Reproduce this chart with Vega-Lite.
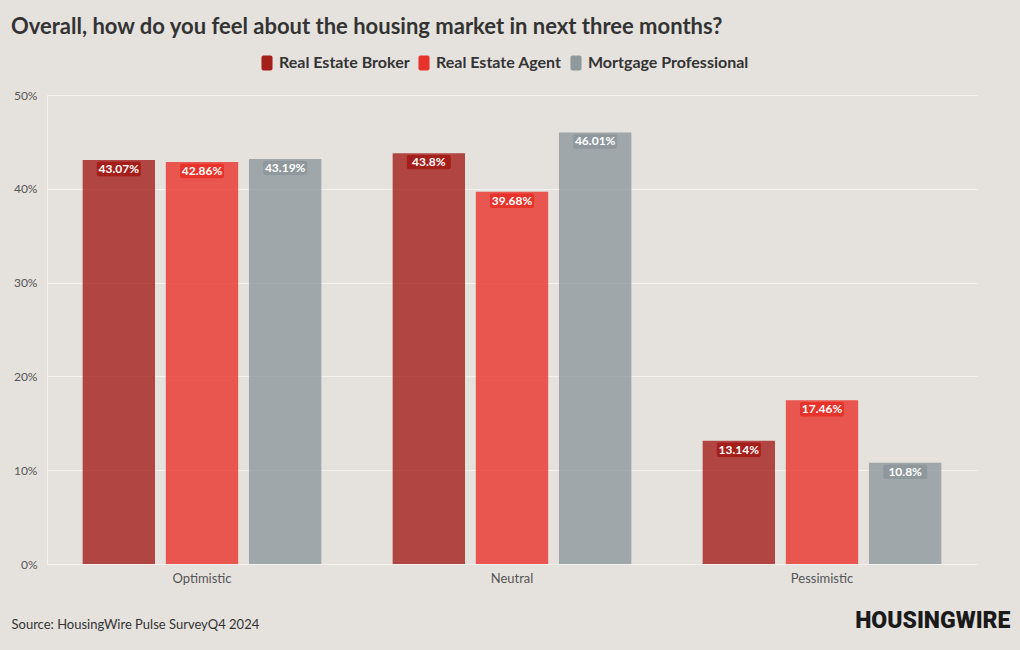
{
  "$schema": "https://vega.github.io/schema/vega-lite/v6.json",
  "width": 930,
  "height": 469,
  "autosize": {"type": "none"},
  "padding": {"left": 47, "top": 95, "right": 43, "bottom": 86},
  "background": "#e5e2de",
  "title": {
    "text": "Overall, how do you feel about the housing market in next three months?",
    "anchor": "start",
    "frame": "group",
    "dx": -36,
    "font": "Lato",
    "fontSize": 22,
    "fontWeight": "bold",
    "color": "#333333",
    "offset": 16
  },
  "config": {
    "view": {"stroke": null},
    "font": "Lato"
  },
  "data": {
    "values": [
      {"sentiment": "Optimistic", "role": "Real Estate Broker", "value": 43.07},
      {"sentiment": "Optimistic", "role": "Real Estate Agent", "value": 42.86},
      {"sentiment": "Optimistic", "role": "Mortgage Professional", "value": 43.19},
      {"sentiment": "Neutral", "role": "Real Estate Broker", "value": 43.8},
      {"sentiment": "Neutral", "role": "Real Estate Agent", "value": 39.68},
      {"sentiment": "Neutral", "role": "Mortgage Professional", "value": 46.01},
      {"sentiment": "Pessimistic", "role": "Real Estate Broker", "value": 13.14},
      {"sentiment": "Pessimistic", "role": "Real Estate Agent", "value": 17.46},
      {"sentiment": "Pessimistic", "role": "Mortgage Professional", "value": 10.8}
    ]
  },
  "transform": [
    {"calculate": "format(datum.value, '.2~f') + '%'", "as": "label"}
  ],
  "encoding": {
    "x": {
      "field": "sentiment",
      "type": "nominal",
      "sort": ["Optimistic", "Neutral", "Pessimistic"],
      "scale": {"paddingInner": 0.23, "paddingOuter": 0.115},
      "axis": {
        "labelAngle": 0,
        "ticks": false,
        "domain": false,
        "labelFont": "Lato",
        "labelFontSize": 13,
        "labelColor": "#555555",
        "labelPadding": 8,
        "title": "Source: HousingWire Pulse SurveyQ4 2024",
        "titleFont": "Lato",
        "titleFontSize": 13,
        "titleFontWeight": "normal",
        "titleColor": "#333333",
        "titleAnchor": "start",
        "titleAlign": "left",
        "titleBaseline": "middle",
        "titleX": -36,
        "titleY": 60
      }
    },
    "xOffset": {
      "field": "role",
      "type": "nominal",
      "sort": ["Real Estate Broker", "Real Estate Agent", "Mortgage Professional"],
      "scale": {"paddingInner": 0.13, "paddingOuter": 0}
    },
    "y": {
      "field": "value",
      "type": "quantitative",
      "scale": {"domain": [0, 50]},
      "axis": {
        "values": [0, 10, 20, 30, 40, 50],
        "labelOverlap": false,
        "labelExpr": "datum.label + '%'",
        "ticks": false,
        "domain": true,
        "domainColor": "#f4f2f0",
        "gridColor": "#f4f2f0",
        "gridWidth": 1,
        "labelFont": "Lato",
        "labelFontSize": 12,
        "labelColor": "#555555",
        "labelPadding": 10,
        "title": "HOUSINGWIRE",
        "titleAngle": 0,
        "titleFont": "Roboto",
        "titleFontSize": 23,
        "titleFontWeight": 900,
        "titleColor": "#1a1a1a",
        "titleAlign": "right",
        "titleBaseline": "middle",
        "titleAnchor": null,
        "titleX": 963,
        "titleY": 525
      }
    },
    "color": {
      "field": "role",
      "type": "nominal",
      "sort": ["Real Estate Broker", "Real Estate Agent", "Mortgage Professional"],
      "scale": {
        "domain": ["Real Estate Broker", "Real Estate Agent", "Mortgage Professional"],
        "range": ["#a41e1a", "#e8332b", "#8f989c"]
      },
      "legend": {
        "title": null,
        "orient": "none",
        "direction": "horizontal",
        "legendX": 212,
        "legendY": -40,
        "symbolType": "M-0.6,-1.25 H0.6 A0.32,0.32 0 0 1 0.92,-0.93 V0.93 A0.32,0.32 0 0 1 0.6,1.25 H-0.6 A0.32,0.32 0 0 1 -0.92,0.93 V-0.93 A0.32,0.32 0 0 1 -0.6,-1.25 Z",
        "symbolSize": 144,
        "symbolOpacity": 1,
        "symbolStrokeWidth": 0,
        "labelFont": "Lato",
        "labelFontSize": 16,
        "labelFontWeight": "bold",
        "labelColor": "#333333",
        "labelOffset": 4,
        "columnPadding": 6,
        "labelLimit": 300
      }
    }
  },
  "layer": [
    {"mark": {"type": "bar", "opacity": 0.8}},
    {
      "mark": {
        "type": "point",
        "filled": true,
        "opacity": 1,
        "shape": "M-2.0,-0.72 H2.0 A0.2,0.2 0 0 1 2.2,-0.52 V0.52 A0.2,0.2 0 0 1 2.0,0.72 H-2.0 A0.2,0.2 0 0 1 -2.2,0.52 V-0.52 A0.2,0.2 0 0 1 -2.0,-0.72 Z",
        "size": 400,
        "yOffset": 9
      }
    },
    {
      "mark": {
        "type": "text",
        "color": "white",
        "font": "Lato",
        "fontSize": 12,
        "fontWeight": "bold",
        "baseline": "middle",
        "yOffset": 9
      },
      "encoding": {
        "text": {"field": "label"},
        "color": {"value": "white"}
      }
    }
  ]
}
